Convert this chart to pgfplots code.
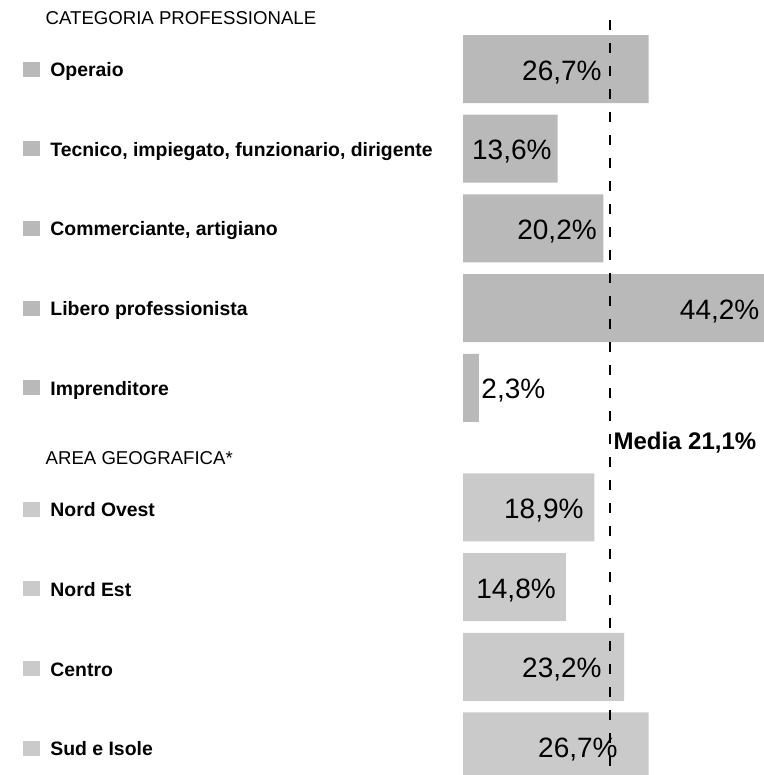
\documentclass[border=0pt]{standalone}
\usepackage{pgfplots}
\pgfplotsset{compat=1.18}
\usepackage{fontspec}
\setmainfont{Liberation Sans}
\definecolor{barA}{HTML}{B9B9B9}
\definecolor{barB}{HTML}{CACACA}
\newcommand{\lab}[2]{\textcolor{#1}{\rule{8.5pt}{7.5pt}}\hspace{5pt}\textbf{#2}}
\begin{document}
\begin{tikzpicture}
\begin{axis}[
  width=382pt, height=387.5pt, scale only axis, hide axis,
  xmin=-66.62, xmax=43.31, ymin=-0.866, ymax=8.858, y dir=reverse,
  bar width=34pt, bar shift=0pt, clip=true,
]
\path (rel axis cs:0,0) rectangle (rel axis cs:1,1);
\addplot[xbar, draw=none, fill=barA] coordinates {(26.7,0) (13.6,1) (20.2,2) (44.2,3) (2.3,4)};
\addplot[xbar, draw=none, fill=barB] coordinates {(18.9,5.5) (14.8,6.5) (23.2,7.5) (26.7,8.5)};
\addplot[sharp plot, black, line width=1pt, dash pattern=on 5pt off 6.5pt, forget plot] coordinates {(21.1,-0.615) (21.1,8.858)};
% headers
\node[anchor=west, inner sep=0pt, font=\fontsize{9.3}{11}\selectfont] at (axis cs:-60.1,-0.64) {CATEGORIA PROFESSIONALE};
\node[anchor=west, inner sep=0pt, font=\fontsize{9.3}{11}\selectfont] at (axis cs:-60.1,4.88) {AREA GEOGRAFICA*};
% category labels
\begin{scope}[every node/.style={anchor=west, inner sep=0pt, yshift=-1pt, font=\fontsize{9.7}{11}\selectfont}]
\node at (axis cs:-63.31,0) {\lab{barA}{Operaio}};
\node at (axis cs:-63.31,1) {\lab{barA}{Tecnico, impiegato, funzionario, dirigente}};
\node at (axis cs:-63.31,2) {\lab{barA}{Commerciante, artigiano}};
\node at (axis cs:-63.31,3) {\lab{barA}{Libero professionista}};
\node at (axis cs:-63.31,4) {\lab{barA}{Imprenditore}};
\node at (axis cs:-63.31,5.5) {\lab{barB}{Nord Ovest}};
\node at (axis cs:-63.31,6.5) {\lab{barB}{Nord Est}};
\node at (axis cs:-63.31,7.5) {\lab{barB}{Centro}};
\node at (axis cs:-63.31,8.5) {\lab{barB}{Sud e Isole}};
\end{scope}
% value labels
\begin{scope}[every node/.style={anchor=east, inner sep=0pt, yshift=-1.5pt, font=\fontsize{14}{16}\selectfont}]
\node at (axis cs:20.0,0) {26,7\%};
\node at (axis cs:12.8,1) {13,6\%};
\node at (axis cs:19.3,2) {20,2\%};
\node at (axis cs:42.7,3) {44,2\%};
\node[anchor=west] at (axis cs:2.6,4) {2,3\%};
\node at (axis cs:17.4,5.5) {18,9\%};
\node at (axis cs:13.4,6.5) {14,8\%};
\node at (axis cs:20.0,7.5) {23,2\%};
\node at (axis cs:22.3,8.5) {26,7\%};
\end{scope}
\node[anchor=west, inner sep=0pt, font=\bfseries\fontsize{12}{14}\selectfont] at (axis cs:21.6,4.69) {Media 21,1\%};
\end{axis}
\end{tikzpicture}
\end{document}
